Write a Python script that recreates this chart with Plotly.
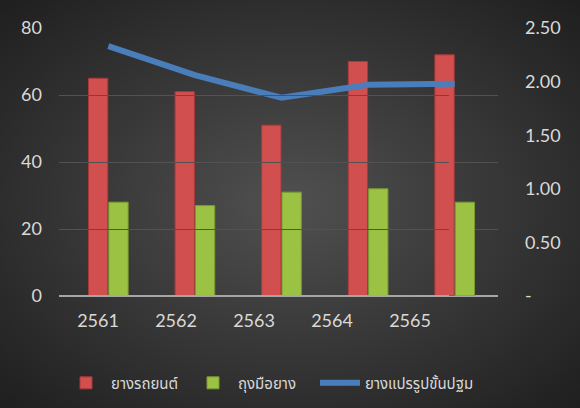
import plotly.graph_objects as go

years = ["2561", "2562", "2563", "2564", "2565"]
tires = [65, 61, 51, 70, 72]
gloves = [28, 27, 31, 32, 28]
primary = [2.33, 2.06, 1.85, 1.97, 1.98]
left_ticks = [0, 20, 40, 60, 80]
right_tickvals = [0, 0.5, 1.0, 1.5, 2.0, 2.5]
right_ticktext = ["-", "0.50", "1.00", "1.50", "2.00", "2.50"]
names = ["ยางรถยนต์", "ถุงมือยาง", "ยางแปรรูปขั้นปฐม"]

W, H = 580, 408
L, R, T, B = 50, 82, 28, 112
pw = W - L - R
ph = H - T - B

bg_svg = (
    "data:image/svg+xml;utf8,"
    "<svg xmlns='http://www.w3.org/2000/svg' width='580' height='408'>"
    "<defs><radialGradient id='g' cx='50%' cy='50%' r='70%'>"
    "<stop offset='0%' stop-color='%23505050'/>"
    "<stop offset='100%' stop-color='%231f1f1f'/>"
    "</radialGradient></defs>"
    "<rect width='580' height='408' fill='url(%23g)'/></svg>"
)

font = "Lato, 'Noto Sans', 'Noto Sans Thai', sans-serif"
txt = "#d9d9d9"

fig = go.Figure()
fig.add_trace(go.Bar(x=years, y=tires, name=names[0],
                     marker=dict(color="#d24f4f", line=dict(color="#a83a3a", width=1))))
fig.add_trace(go.Bar(x=years, y=gloves, name=names[1],
                     marker=dict(color="#9bc243", line=dict(color="#7a9a30", width=1))))
fig.add_trace(go.Scatter(x=years, y=primary, name=names[2], yaxis="y2", legendwidth=130,
                         mode="lines", line=dict(color="#4a7ebb", width=6)))
fig.add_trace(go.Scatter(x=years, y=[0] * len(years), xaxis="x3", mode="markers",
                         marker=dict(opacity=0), showlegend=False, hoverinfo="skip"))

fig.update_layout(
    width=W, height=H,
    margin=dict(l=L, r=R, t=T, b=B, autoexpand=False),
    paper_bgcolor="#222222",
    plot_bgcolor="rgba(0,0,0,0)",
    images=[dict(source=bg_svg, xref="paper", yref="paper",
                 x=-L / pw, y=1 + T / ph,
                 sizex=W / pw, sizey=H / ph,
                 xanchor="left", yanchor="top", sizing="stretch", layer="below")],
    barmode="group", bargap=0.53, bargroupgap=0.05,
    font=dict(family=font, color=txt, size=18),
    xaxis=dict(domain=[(65 - L) / pw, 1], range=[-0.5, 4.5], showticklabels=False,
               showgrid=False, zeroline=False, showline=False, ticks="", automargin=False),
    xaxis3=dict(domain=[(59 - L) / pw, (449 - L) / pw], range=[-0.5, 4.5],
                anchor="y", showgrid=False, zeroline=False, showline=False, automargin=False,
                ticks="", tickfont=dict(size=18, color=txt), ticklabelstandoff=12),
    yaxis=dict(range=[0, 80], tickvals=left_ticks, showgrid=True, automargin=False,
               gridcolor="#525252", gridwidth=1, zeroline=True,
               zerolinecolor="#a6a6a6", zerolinewidth=2, showline=False,
               ticks="", ticklabelstandoff=22, tickfont=dict(size=18, color=txt)),
    yaxis2=dict(range=[0, 2.5], overlaying="y", side="right", anchor="x", automargin=False,
                tickvals=right_tickvals, ticktext=right_ticktext, showgrid=False,
                zeroline=False, showline=False, ticks="", ticklabelstandoff=26,
                tickfont=dict(size=18, color=txt)),
    legend=dict(orientation="h", x=(61 - L) / pw, xanchor="left", y=-0.325, yanchor="middle",
                font=dict(size=15, color=txt), bgcolor="rgba(0,0,0,0)",
                itemwidth=40, entrywidth=72, entrywidthmode="pixels", tracegroupgap=0),
    showlegend=True,
)

fig.write_html("out.html", config={"displayModeBar": False},
               post_script="document.body.style.margin='0';")
